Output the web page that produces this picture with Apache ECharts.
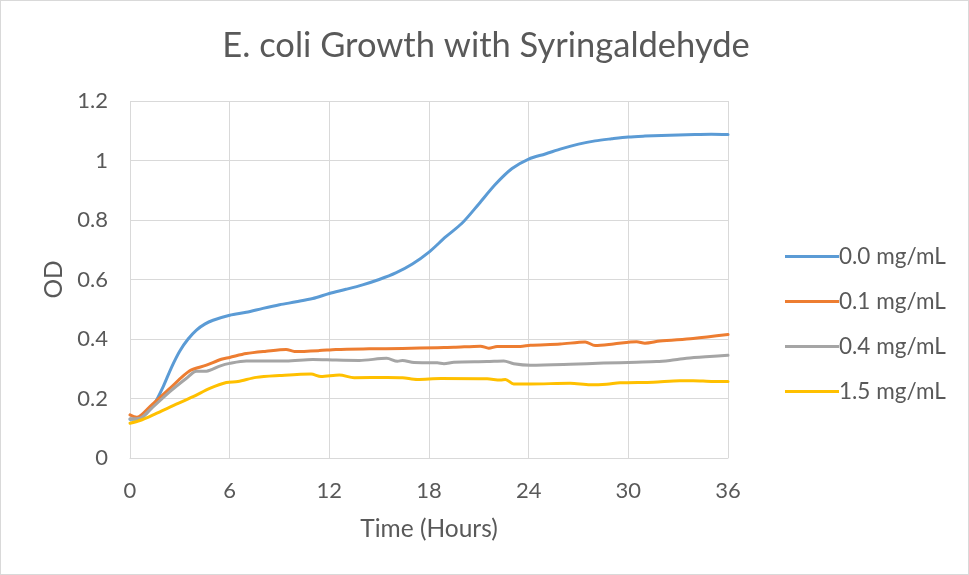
<!DOCTYPE html>
<html>
<head>
<meta charset="utf-8">
<script src="https://cdn.jsdelivr.net/npm/echarts@6/dist/echarts.min.js"></script>
<style>
  html, body { margin: 0; padding: 0; background: #fff; }
  #chart { width: 969px; height: 575px; box-sizing: border-box; border: 1px solid #d9d9d9; }
</style>
</head>
<body>
<div id="chart"></div>
<script>
// Optical density readings (OD) over time (hours) for each syringaldehyde dose
const seriesNames = ['0.0 mg/mL', '0.1 mg/mL', '0.4 mg/mL', '1.5 mg/mL'];

const time00 = [0, 0.5, 1, 1.5, 2, 2.5, 3, 3.5, 4, 4.5, 5, 6, 7, 8, 9, 10, 11, 12, 13, 14, 15, 16, 17, 18, 19, 20, 21, 22, 23, 24, 25, 26, 27, 28, 29, 30, 31, 32, 33, 34, 35, 36];
const od00 = [0.13, 0.13, 0.15, 0.185, 0.24, 0.305, 0.36, 0.40, 0.43, 0.45, 0.463, 0.48, 0.49, 0.503, 0.515, 0.525, 0.536, 0.553, 0.567, 0.582, 0.60, 0.622, 0.652, 0.692, 0.743, 0.79, 0.854, 0.92, 0.973, 1.005, 1.022, 1.04, 1.055, 1.066, 1.073, 1.079, 1.082, 1.084, 1.086, 1.087, 1.088, 1.087];

const time01 = [0, 0.4, 1.2, 2.4, 3.6, 4.6, 5.5, 6, 7, 8.2, 9.4, 9.9, 11.4, 12.4, 14.4, 16.4, 18.5, 19.5, 21.1, 21.6, 22.1, 23.5, 24.1, 25.9, 27.4, 28, 29.1, 30.5, 31, 31.9, 33.9, 36];
const od01 = [0.145, 0.137, 0.173, 0.234, 0.293, 0.312, 0.332, 0.338, 0.351, 0.359, 0.365, 0.358, 0.361, 0.365, 0.367, 0.368, 0.371, 0.372, 0.376, 0.369, 0.375, 0.375, 0.379, 0.383, 0.39, 0.378, 0.383, 0.391, 0.386, 0.393, 0.402, 0.415];

const time04 = [0, 0.6, 1.2, 2.4, 3.4, 4, 4.6, 5.4, 6, 7, 9.4, 11, 12.4, 13.8, 15.45, 16.1, 16.4, 17.1, 18.5, 18.9, 19.5, 21.5, 22.5, 23.1, 24.1, 26.5, 28.5, 30.5, 31.7, 32.5, 33.5, 34.9, 36];
const od04 = [0.132, 0.134, 0.162, 0.223, 0.268, 0.292, 0.292, 0.309, 0.318, 0.326, 0.326, 0.331, 0.329, 0.328, 0.335, 0.325, 0.328, 0.321, 0.32, 0.317, 0.322, 0.324, 0.326, 0.317, 0.312, 0.315, 0.319, 0.322, 0.324, 0.328, 0.335, 0.341, 0.345];

const time15 = [0, 0.6, 1.4, 2.4, 3.8, 4.8, 5.8, 6.5, 7.6, 9, 10.9, 11.5, 12.6, 13.5, 15.5, 16.4, 17.3, 18.7, 21.5, 22.3, 22.6, 23.1, 24.1, 26.5, 27.7, 28.7, 29.5, 31.5, 33.1, 33.9, 35.1, 36];
const od15 = [0.117, 0.126, 0.145, 0.171, 0.206, 0.234, 0.254, 0.257, 0.271, 0.277, 0.282, 0.274, 0.279, 0.27, 0.271, 0.27, 0.264, 0.267, 0.266, 0.262, 0.264, 0.249, 0.249, 0.251, 0.246, 0.248, 0.253, 0.255, 0.26, 0.26, 0.257, 0.257];

const xTicks = { min: 0, max: 36, step: 6 };
const yTicks = { min: 0, max: 1.2, step: 0.2 };

const colors = ['#5B9BD5', '#ED7D31', '#A5A5A5', '#FFC000'];
const times = [time00, time01, time04, time15];
const ods = [od00, od01, od04, od15];

const pair = (t, v) => t.map((x, i) => [x, v[i]]);
const font = 'Lato, "Open Sans", sans-serif';
const textColor = '#595959';

const chart = echarts.init(document.getElementById('chart'), null, { renderer: 'canvas' });
chart.setOption({
  animation: false,
  color: colors,
  title: {
    text: 'E. coli Growth with Syringaldehyde',
    left: 480, top: 22, textAlign: 'center',
    textStyle: { fontFamily: font, fontSize: 34.5, fontWeight: 'normal', color: textColor }
  },
  grid: { left: 129, right: 240, top: 100, bottom: 116, containLabel: false },
  legend: {
    orient: 'vertical',
    left: 779, top: 239,
    itemWidth: 54, itemHeight: 3, itemGap: 22,
    icon: 'rect',
    data: seriesNames,
    textStyle: { fontFamily: font, fontSize: 22.5, lineHeight: 23, color: textColor, padding: [0, 0, 0, -5] }
  },
  xAxis: {
    type: 'value', min: xTicks.min, max: xTicks.max, interval: xTicks.step,
    name: 'Time (Hours)', nameLocation: 'middle', nameGap: 59,
    nameTextStyle: { fontFamily: font, fontSize: 24.5, color: textColor },
    axisLine: { show: true, lineStyle: { color: '#d9d9d9', width: 1 } },
    axisTick: { show: false },
    axisLabel: { fontFamily: font, fontSize: 22, color: textColor, margin: 22 },
    splitLine: { show: true, lineStyle: { color: '#d9d9d9', width: 1 } }
  },
  yAxis: {
    type: 'value', min: yTicks.min, max: yTicks.max, interval: yTicks.step,
    name: 'OD', nameLocation: 'middle', nameGap: 63, nameRotate: 90,
    nameTextStyle: { fontFamily: font, fontSize: 24.5, color: textColor },
    axisLine: { show: false },
    axisTick: { show: false },
    axisLabel: { fontFamily: font, fontSize: 22, color: textColor, margin: 22 },
    splitLine: { show: true, lineStyle: { color: '#d9d9d9', width: 1 } }
  },
  series: seriesNames.map((name, i) => ({
    name, type: 'line', smooth: 0.3, showSymbol: false, symbol: 'none',
    lineStyle: { width: 3, color: colors[i], cap: 'round', join: 'round' },
    itemStyle: { color: colors[i] },
    data: pair(times[i], ods[i])
  }))
});
</script>
</body>
</html>
